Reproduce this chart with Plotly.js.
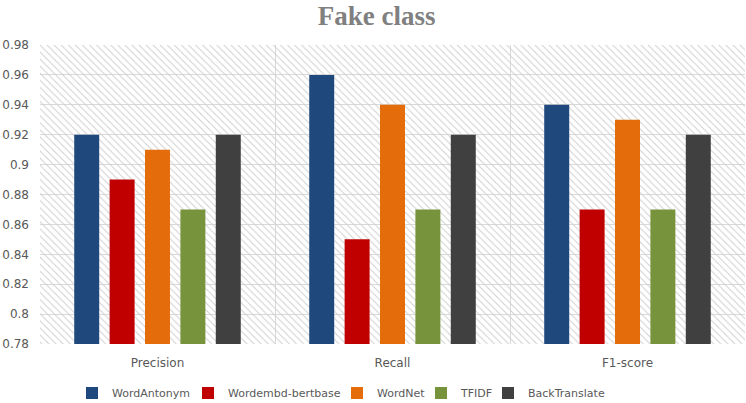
<!DOCTYPE html>
<html><head><meta charset="utf-8">
<script src="https://cdn.plot.ly/plotly-3.0.1.min.js"></script>
<style>body{margin:0;background:#fff}#c{width:746px;height:403px}</style>
</head><body><div id="c"></div>
<script>
const categories = ["Precision", "Recall", "F1-score"];
const seriesNames = ["WordAntonym", "Wordembd-bertbase", "WordNet", "TFIDF", "BackTranslate"];
const wordAntonym = [0.92, 0.96, 0.94];
const wordembdBertbase = [0.89, 0.85, 0.87];
const wordNet = [0.91, 0.94, 0.93];
const tfidf = [0.87, 0.87, 0.87];
const backTranslate = [0.92, 0.92, 0.92];
const yTicks = [0.78, 0.8, 0.82, 0.84, 0.86, 0.88, 0.9, 0.92, 0.94, 0.96, 0.98];
const yTickText = ["0.78","0.8","0.82","0.84","0.86","0.88","0.9","0.92","0.94","0.96","0.98"];

const colors = ["#1F497D", "#C00000", "#E46C0A", "#77933C", "#404040"];
const values = [wordAntonym, wordembdBertbase, wordNet, tfidf, backTranslate];
const legendLeftPx = [72, 188, 337, 421, 488];
const legendIds = ["legend", "legend2", "legend3", "legend4", "legend5"];

// hatched background on the main (linear) x axis
const traces = [{
  type: "bar", x: [1], y: [0.2], base: [0.78], width: [3],
  xaxis: "x", yaxis: "y",
  marker: {color: "rgba(0,0,0,0)", line: {width: 0},
    pattern: {shape: "\\", fgcolor: "#CFCFCF", bgcolor: "rgba(0,0,0,0)", size: 5, solidity: 0.2}},
  showlegend: false, hoverinfo: "skip"
}];
seriesNames.forEach((n, i) => {
  traces.push({type: "bar", name: n, x: categories, y: values[i].map(v => v - 0.78), base: 0.78,
    marker: {color: colors[i]}, xaxis: "x2", yaxis: "y", legend: legendIds[i]});
});

const layout = {
  width: 746, height: 403,
  margin: {l: 40, r: 1, t: 45, b: 59},
  paper_bgcolor: "#fff", plot_bgcolor: "#fff",
  title: {text: "<b>Fake class</b>", x: 0.505, xanchor: "center", y: 0.962, yanchor: "middle",
    font: {family: "Liberation Serif, DejaVu Serif, serif", size: 27, color: "#808080"}},
  font: {family: "DejaVu Sans, Verdana, sans-serif", size: 12, color: "#595959"},
  barmode: "group", bargap: 0.247, bargroupgap: 0.294,
  xaxis: {range: [-0.5, 2.5], tickvals: [-0.5, 0.5, 1.5, 2.5], showgrid: true, gridcolor: "#D9D9D9",
    showticklabels: false, ticks: "", zeroline: false, showline: false, automargin: false},
  xaxis2: {type: "category", overlaying: "x", anchor: "y", side: "bottom", range: [-0.5, 2.5],
    showgrid: false, ticks: "", showline: false, zeroline: false, ticklabelstandoff: 10,
    automargin: false, tickfont: {size: 12, color: "#595959"}},
  yaxis: {range: [0.78, 0.98], tickvals: yTicks, ticktext: yTickText, showgrid: true,
    gridcolor: "#D9D9D9", zeroline: false, showline: false, ticks: "", ticklabelstandoff: 10,
    automargin: false, tickfont: {size: 12, color: "#595959"}},
  showlegend: true
};
legendIds.forEach((id, i) => {
  layout[id] = {orientation: "h", xref: "container", yref: "container",
    x: legendLeftPx[i] / 746, xanchor: "left", y: 1 - 393 / 403, yanchor: "middle",
    font: {size: 11, color: "#595959"}, itemwidth: 30, bgcolor: "rgba(0,0,0,0)", borderwidth: 0};
});
Plotly.newPlot("c", traces, layout, {displayModeBar: false, staticPlot: true});
</script></body></html>
